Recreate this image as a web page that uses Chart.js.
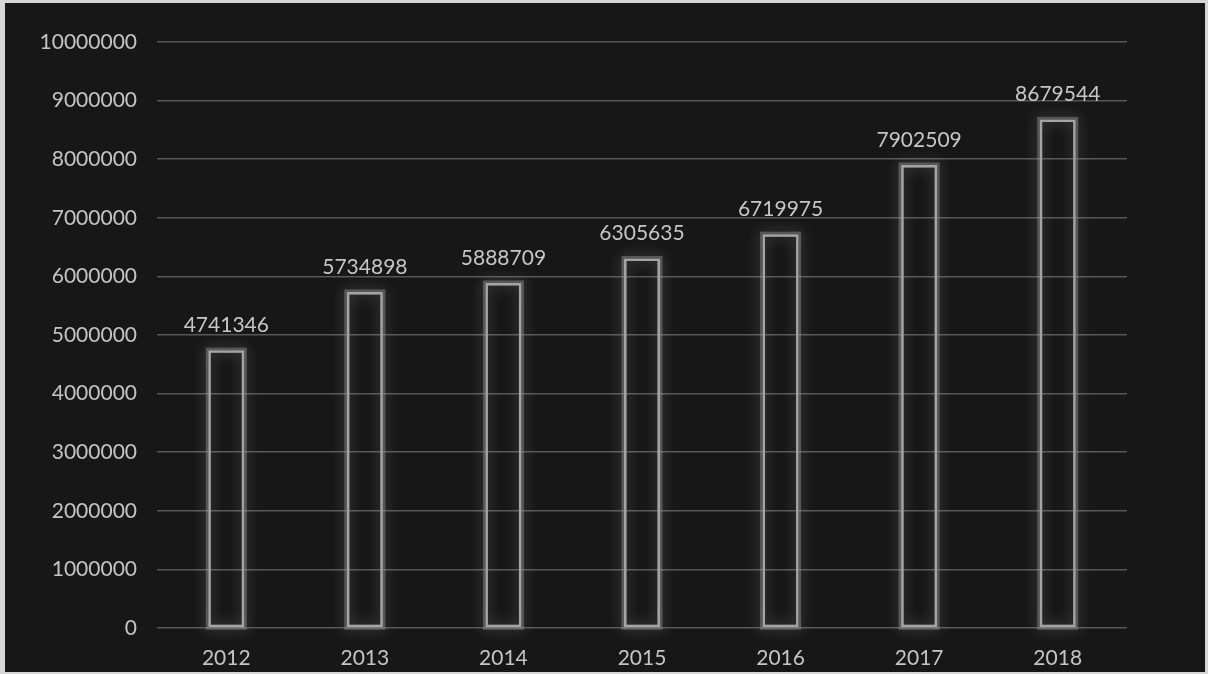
<!DOCTYPE html>
<html>
<head>
<meta charset="utf-8">
<script src="https://cdn.jsdelivr.net/npm/chart.js@4/dist/chart.umd.min.js"></script>
<style>
  html, body { margin: 0; padding: 0; background: #d6d6d6; }
  #wrap { position: absolute; left: 5px; top: 3px; width: 1200px; height: 669px; background: #171717; }
</style>
</head>
<body>
<div id="wrap"><canvas id="myChart"></canvas></div>
<script>
let years = ["2012", "2013", "2014", "2015", "2016", "2017", "2018"];
let values = [4741346, 5734898, 5888709, 6305635, 6719975, 7902509, 8679544];
let yMax = 10000000;
let yStep = 1000000;

let fontName = "Lato, 'Open Sans', sans-serif";

// soft halo around each bar, drawn before the bars themselves
let glowPlugin = {
    id: "glow",
    beforeDatasetsDraw(chart) {
        let ctx = chart.ctx;
        let meta = chart.getDatasetMeta(0);
        ctx.save();
        ctx.shadowColor = "rgba(255,255,255,0.5)";
        ctx.shadowBlur = 14;
        ctx.strokeStyle = "rgba(150,150,150,0.45)";
        ctx.lineWidth = 5;
        meta.data.forEach(bar => {
            let p = bar.getProps(["x", "y", "base", "width"], true);
            ctx.strokeRect(p.x - p.width / 2, p.y, p.width, p.base - p.y);
        });
        ctx.restore();
    }
};

// value written above each bar
let valuePlugin = {
    id: "values",
    afterDatasetsDraw(chart) {
        let ctx = chart.ctx;
        let meta = chart.getDatasetMeta(0);
        ctx.save();
        ctx.fillStyle = "#c6c6c6";
        ctx.font = "21px " + fontName;
        ctx.textAlign = "center";
        ctx.textBaseline = "middle";
        meta.data.forEach((bar, i) => {
            ctx.fillText(String(values[i]), bar.x, bar.y - 25);
        });
        ctx.restore();
    }
};

let data = {
    labels: years,
    datasets: [
        {
            label: "total",
            data: values,
            backgroundColor: "rgba(0,0,0,0)",
            borderColor: "#a4a4a4",
            borderWidth: 2.5,
            borderSkipped: false,
            barPercentage: 0.26,
            categoryPercentage: 1
        }
    ]
};

let config = {
    type: "bar",
    data: data,
    options: {
        responsive: true,
        maintainAspectRatio: false,
        animation: false,
        layout: { padding: { left: 0, top: 39, right: 78, bottom: 0 } },
        plugins: {
            legend: { display: false },
            tooltip: { enabled: false }
        },
        scales: {
            x: {
                grid: { display: false, drawTicks: false },
                border: { display: false },
                ticks: { color: "#c4c4c4", font: { family: fontName, size: 21 }, padding: 18 },
                afterFit(scale) { scale.height = 44; }
            },
            y: {
                min: 0,
                max: yMax,
                grid: { color: "#575757", lineWidth: 1.5, drawTicks: false },
                border: { display: false },
                ticks: {
                    stepSize: yStep,
                    color: "#c4c4c4",
                    font: { family: fontName, size: 21 },
                    padding: 20,
                    callback: v => String(v)
                },
                afterFit(scale) { scale.width = 152; }
            }
        }
    },
    plugins: [glowPlugin, valuePlugin]
};

let myChart = new Chart(document.getElementById("myChart"), config);
</script>
</body>
</html>
